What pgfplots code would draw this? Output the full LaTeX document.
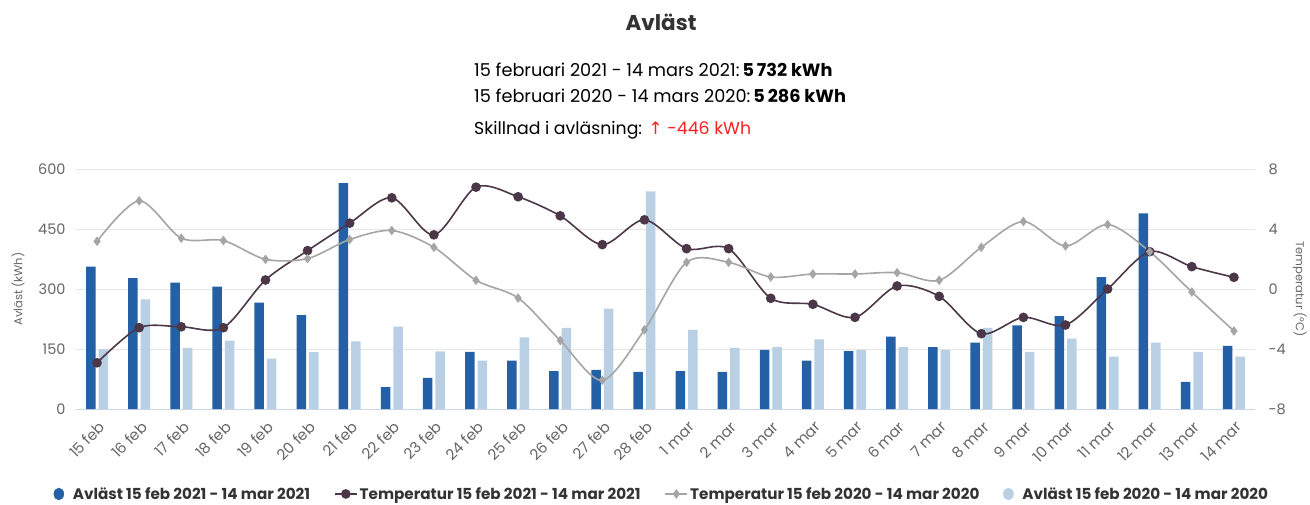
\documentclass[border=0pt]{standalone}
\usepackage{fontspec}
\setmainfont{Poppins}
\newfontfamily\arrowfont{DejaVu Sans}
\usepackage{pgfplots}
\pgfplotsset{compat=1.18}
\definecolor{dblue}{HTML}{2360A5}
\definecolor{lblue}{HTML}{B8CFE4}
\definecolor{dtemp}{HTML}{4B3747}
\definecolor{gtemp}{HTML}{A5A5A5}
\definecolor{ticklab}{HTML}{666666}
\definecolor{gridc}{HTML}{E6E6E6}
\definecolor{axisc}{HTML}{CCD6EB}
\definecolor{txt}{HTML}{333333}
\definecolor{redt}{HTML}{FF2020}

\pgfplotstableread{
x kwh21 kwh20 t21 t20
0 356 149 -4.92 3.18
1 327 274 -2.58 5.88
2 316 153 -2.52 3.39
3 306 171 -2.58 3.23
4 266 126 0.60 1.98
5 235 142 2.56 2.03
6 565 169 4.39 3.30
7 55 206 6.08 3.90
8 78 144 3.61 2.78
9 143 121 6.79 0.58
10 121 179 6.15 -0.60
11 95 203 4.88 -3.43
12 98 251 2.96 -6.08
13 93 544 4.61 -2.72
14 95 198 2.69 1.78
15 93 153 2.69 1.78
16 148 155 -0.62 0.80
17 121 174 -1.02 1.00
18 145 148 -1.89 1.00
19 181 155 0.20 1.09
20 155 148 -0.49 0.58
21 166 203 -2.98 2.78
22 209 143 -1.89 4.50
23 232 176 -2.40 2.87
24 330 131 0.00 4.30
25 489 166 2.49 2.49
26 68 143 1.49 -0.20
27 158 131 0.78 -2.80
}\datatable

\begin{document}
\begin{tikzpicture}[x=1pt,y=1pt]
\useasboundingbox (0,0) rectangle (1310,504);
\node[font=\fontsize{21.5}{26}\selectfont\bfseries, text=txt] at (661,482) {Avläst};
\node[anchor=base west, font=\fontsize{17.7}{20}\selectfont, text=black, inner sep=0] at (474,427) {15 februari 2021 - 14 mars 2021:\,\textbf{5\,732 kWh}};
\node[anchor=base west, font=\fontsize{17.7}{20}\selectfont, text=black, inner sep=0] at (474,401) {15 februari 2020 - 14 mars 2020:\,\textbf{5\,286 kWh}};
\node[anchor=base west, font=\fontsize{17.3}{20}\selectfont, text=black, inner sep=0] at (474,369) {Skillnad i avläsning: \textcolor{redt}{{\arrowfont ↑}\ -446 kWh}};

\begin{axis}[
  at={(76pt,95pt)}, anchor=south west,
  scale only axis, width=1179pt, height=240pt,
  xmin=-0.5, xmax=27.5, ymin=0, ymax=600,
  ytick={0,150,300,450,600},
  xtick={0,...,27},
  xticklabels={15 feb,16 feb,17 feb,18 feb,19 feb,20 feb,21 feb,22 feb,23 feb,24 feb,25 feb,26 feb,27 feb,28 feb,1 mar,2 mar,3 mar,4 mar,5 mar,6 mar,7 mar,8 mar,9 mar,10 mar,11 mar,12 mar,13 mar,14 mar},
  x tick label style={xshift=1pt, yshift=-11pt, rotate=45, anchor=north east, font=\fontsize{15}{16}\selectfont, text=ticklab, inner sep=0pt},
  y tick label style={font=\fontsize{14.5}{16}\selectfont, text=ticklab},
  yticklabel style={xshift=-7pt},
  /pgf/number format/assume math mode=true,
  ymajorgrids, grid style={gridc, line width=1pt},
  axis x line*=bottom, axis y line*=left,
  x axis line style={axisc, line width=1pt},
  y axis line style={draw=none},
  major tick length=0pt,
  ylabel={Avläst (kWh)},
  ylabel style={at={(axis description cs:-0.0492,0.5)}, anchor=center, font=\fontsize{11.5}{13}\selectfont, text=ticklab},
  ybar=3pt, bar width=9.5pt,
]
\addplot[fill=dblue, draw=none] table[x=x, y=kwh21] {\datatable};
\addplot[fill=lblue, draw=none] table[x=x, y=kwh20] {\datatable};
\end{axis}

\begin{axis}[
  at={(76pt,95pt)}, anchor=south west,
  scale only axis, width=1179pt, height=240pt,
  xmin=-0.5, xmax=27.5, ymin=-8, ymax=8,
  ytick={-8,-4,0,4,8},
  axis y line*=right, axis x line=none,
  y axis line style={draw=none},
  y tick label style={font=\fontsize{14.5}{16}\selectfont, text=ticklab},
  yticklabel style={xshift=10pt},
  /pgf/number format/assume math mode=true,
  major tick length=0pt,
  ylabel={Temperatur (°C)},
  ylabel style={at={(axis description cs:1.038,0.5)}, anchor=center, rotate=180, font=\fontsize{11.5}{13}\selectfont, text=ticklab},
  legend columns=4,
  legend image code/.code={\draw[mark repeat=2, mark phase=2] plot coordinates {(0pt,0pt) (11pt,0pt) (22pt,0pt)};},
  legend style={at={(0.497,-0.354)}, anchor=center, draw=none, fill=none,
    font=\fontsize{15.2}{16}\selectfont\bfseries, text=txt,
    /tikz/every even column/.append style={column sep=22pt}},
  legend cell align=left,
]
\addlegendimage{only marks, mark=*, mark size=5pt, mark options={fill=dblue, draw=dblue, yscale=1.2}}
\addlegendentry{\hspace{7pt}Avläst 15 feb 2021 - 14 mar 2021}
\addplot[dtemp, line width=1.6pt, smooth, tension=0.5, mark=*, mark size=4pt, mark options={fill=dtemp, draw=dtemp}] table[x=x, y=t21] {\datatable};
\addlegendentry{Temperatur 15 feb 2021 - 14 mar 2021}
\addplot[gtemp, line width=1.6pt, smooth, tension=0.5, mark=diamond*, mark size=3.5pt, mark options={fill=gtemp, draw=gtemp}] table[x=x, y=t20] {\datatable};
\addlegendentry{Temperatur 15 feb 2020 - 14 mar 2020}
\addlegendimage{only marks, mark=*, mark size=5pt, mark options={fill=lblue, draw=lblue, yscale=1.2}}
\addlegendentry{\hspace{7pt}Avläst 15 feb 2020 - 14 mar 2020}
\end{axis}
\end{tikzpicture}
\end{document}
